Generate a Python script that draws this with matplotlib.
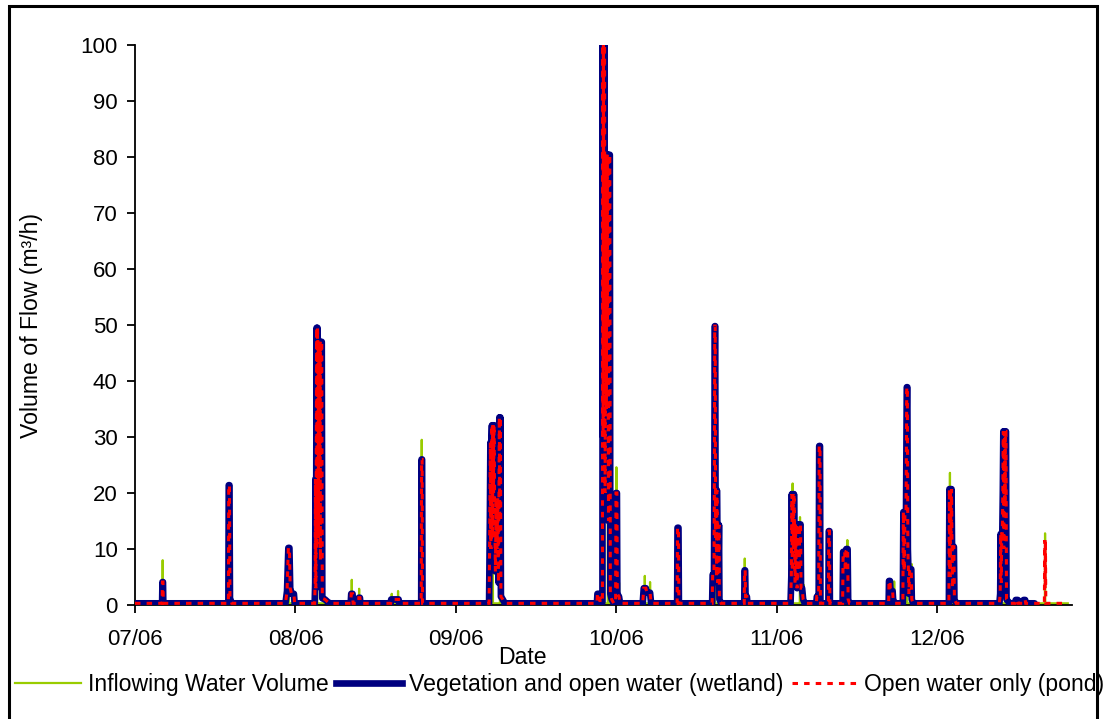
import matplotlib
matplotlib.use("Agg")
import matplotlib.pyplot as plt
from matplotlib.patches import Rectangle
from matplotlib.lines import Line2D

plt.rcParams['font.family'] = ['Liberation Sans', 'DejaVu Sans']

# ---- data: days since 1 July 2006 and flow (m3/h) ----
month_ticks = [0, 30.5, 61, 91.5, 122, 152.5]
month_labels = ["07/06", "08/06", "09/06", "10/06", "11/06", "12/06"]

# Vegetation and open water (wetland)
wetland_day = [
    0.0,
    5.15, 5.22, 5.32, 5.38,
    17.75, 17.82, 17.95, 18.05, 18.4,
    28.6, 28.9, 29.15, 29.35, 29.5, 29.75, 30.2, 30.35,
    34.15, 34.25, 34.3, 34.38, 34.45, 34.52, 34.6, 34.68, 34.75, 34.85, 34.95, 35.05, 35.15, 35.25, 35.35, 35.5, 35.6, 36.1, 36.7, 37.1,
    41.0, 41.1, 41.35, 41.45, 42.45, 42.55, 42.75, 42.85,
    48.6, 48.7, 50.1, 50.2,
    54.4, 54.47, 54.57, 54.65,
    67.3, 67.45, 67.55, 67.65, 67.75, 67.85, 67.95, 68.05, 68.15, 68.25, 68.35, 68.5, 68.65, 68.8, 68.95, 69.1, 69.25, 69.35, 69.45, 69.55, 69.9, 70.3,
    87.8, 87.9, 88.3, 88.4, 88.85, 88.9, 88.97, 89.04, 89.1, 89.17, 89.25, 89.35, 89.5, 89.6, 89.7, 89.8, 89.9, 90.0, 90.1, 90.25, 90.35, 90.6, 91.0,
    91.35, 91.42, 91.6, 91.68, 92.0, 92.2,
    96.5, 96.7, 97.1, 97.3, 97.9, 98.1,
    103.05, 103.12, 103.3, 103.38,
    109.7, 109.8, 110.05, 110.12, 110.2, 110.28, 110.36, 110.44, 110.52, 110.6, 110.68, 110.76, 110.84, 110.92, 111.0, 111.08, 111.4,
    115.8, 115.87, 115.97, 116.05, 116.3, 116.4,
    124.6, 124.75, 124.85, 124.95, 125.05, 125.15, 125.25, 125.35, 125.45, 125.55, 125.65, 125.75, 125.85, 125.95, 126.1, 126.2, 126.35, 126.5, 126.6, 126.8, 127.0, 127.3,
    129.5, 129.6, 129.95, 130.05, 130.2, 130.28,
    131.8, 131.87, 132.0, 132.08,
    134.5, 134.6, 134.9, 135.0, 135.2, 135.45, 135.55, 135.8,
    143.25, 143.32, 143.5, 143.6, 144.0, 144.1, 144.4,
    145.95, 146.05, 146.2, 146.35, 146.55, 146.7, 146.8, 146.9, 147.0, 147.1, 147.25, 147.55, 147.65, 147.9,
    154.7, 154.8, 154.9, 155.0, 155.1, 155.2, 155.3, 155.4, 155.5, 155.65, 155.75, 156.1,
    164.3, 164.45, 164.55, 164.65, 164.75, 164.85, 164.95, 165.05, 165.15, 165.25, 165.35, 165.45, 165.55, 165.65, 166.0, 166.3,
    167.3, 167.4, 167.8, 167.9, 168.8, 168.9, 169.2, 169.3,
    171.0,
]
wetland_flow = [
    0.3,
    0.3, 4.1, 4.1, 0.3,
    0.3, 21.4, 21.4, 1.2, 0.3,
    0.3, 2.5, 10.2, 10.2, 3.0, 2.0, 2.0, 0.3,
    0.3, 4.0, 22.5, 3.0, 22.5, 49.5, 10.0, 49.5, 47.0, 12.0, 47.0, 25.0, 47.0, 8.0, 47.0, 47.0, 1.2, 1.0, 0.5, 0.3,
    0.3, 2.0, 2.0, 0.3, 0.3, 1.3, 1.3, 0.3,
    0.3, 1.0, 1.0, 0.3,
    0.3, 26.0, 26.0, 0.3,
    0.3, 15.0, 29.0, 10.0, 29.0, 32.1, 12.0, 32.1, 20.0, 32.1, 19.0, 6.0, 19.0, 10.0, 19.0, 4.0, 33.5, 15.0, 33.5, 1.5, 1.0, 0.3,
    0.3, 2.0, 2.0, 0.5, 0.5, 100.0, 30.0, 100.0, 60.0, 100.0, 100.0, 20.0, 80.4, 35.0, 80.4, 50.0, 80.4, 15.0, 80.4, 80.4, 2.0, 1.0, 0.3,
    0.3, 20.0, 20.0, 2.0, 1.5, 0.3,
    0.3, 3.0, 3.0, 2.2, 2.2, 0.3,
    0.3, 13.8, 13.8, 0.3,
    0.3, 5.4, 5.4, 20.5, 49.8, 49.8, 12.0, 20.5, 5.0, 20.5, 14.3, 4.0, 14.3, 8.0, 14.3, 1.0, 0.3,
    0.3, 6.2, 6.2, 1.5, 1.5, 0.3,
    0.3, 5.0, 19.8, 6.0, 19.8, 10.0, 19.8, 14.0, 4.0, 14.4, 8.0, 14.4, 3.0, 14.4, 14.4, 6.0, 14.4, 14.4, 3.0, 3.0, 1.0, 0.3,
    0.3, 1.5, 1.5, 28.4, 28.4, 0.3,
    0.3, 13.2, 13.2, 0.3,
    0.3, 9.5, 9.5, 6.0, 10.0, 10.0, 1.0, 0.3,
    0.3, 4.3, 4.3, 2.5, 2.5, 1.0, 0.3,
    0.3, 16.6, 6.0, 16.6, 16.6, 38.9, 38.9, 10.0, 6.4, 2.0, 6.4, 6.4, 1.0, 0.3,
    0.3, 20.7, 5.0, 20.7, 12.0, 20.7, 10.4, 3.0, 10.4, 10.4, 1.0, 0.3,
    0.3, 2.0, 12.7, 4.0, 12.7, 12.7, 20.0, 31.0, 10.0, 31.0, 18.0, 31.0, 31.0, 1.0, 0.6, 0.3,
    0.3, 0.9, 0.9, 0.3, 0.3, 0.9, 0.9, 0.3,
    0.3,
]

# Open water only (pond): follows the wetland record, then continues to late December
pond_day = wetland_day + [172.85, 172.92, 173.0, 173.05, 173.12, 176.2]
pond_flow = wetland_flow + [0.3, 11.6, 3.0, 11.6, 0.3, 0.3]

# Inflowing water volume
inflow_day = [
    0.0,
    5.22, 5.26, 5.3,
    17.84, 17.88, 17.92,
    29.21, 29.25, 29.29,
    29.96, 30.0, 30.04,
    34.56, 34.6, 34.64,
    41.16, 41.2, 41.24,
    42.56, 42.6, 42.64,
    48.76, 48.8, 48.84,
    49.96, 50.0, 50.04,
    54.46, 54.5, 54.54,
    67.96, 68.0, 68.04,
    69.36, 69.4, 69.44,
    88.96, 89.0, 89.04,
    89.86, 89.9, 89.94,
    91.46, 91.5, 91.54,
    91.96, 92.0, 92.04,
    96.86, 96.9, 96.94,
    97.86, 97.9, 97.94,
    103.16, 103.2, 103.24,
    110.16, 110.2, 110.24,
    110.96, 111.0, 111.04,
    115.86, 115.9, 115.94,
    124.96, 125.0, 125.04,
    126.36, 126.4, 126.44,
    127.06, 127.1, 127.14,
    130.11, 130.15, 130.19,
    131.86, 131.9, 131.94,
    135.36, 135.4, 135.44,
    144.26, 144.3, 144.34,
    146.71, 146.75, 146.79,
    147.61, 147.65, 147.69,
    154.86, 154.9, 154.94,
    155.56, 155.6, 155.64,
    164.56, 164.6, 164.64,
    165.36, 165.4, 165.44,
    172.94, 172.98, 173.02,
    177.3,
]
inflow_flow = [
    0.3,
    0.3, 8.0, 0.3,
    0.3, 21.4, 0.3,
    0.3, 10.2, 0.3,
    0.3, 2.8, 0.3,
    0.3, 49.5, 0.3,
    0.3, 4.5, 0.3,
    0.3, 2.9, 0.3,
    0.3, 2.0, 0.3,
    0.3, 2.5, 0.3,
    0.3, 29.5, 0.3,
    0.3, 32.1, 0.3,
    0.3, 33.5, 0.3,
    0.3, 100.0, 0.3,
    0.3, 80.4, 0.3,
    0.3, 24.6, 0.3,
    0.3, 4.0, 0.3,
    0.3, 5.2, 0.3,
    0.3, 4.1, 0.3,
    0.3, 13.8, 0.3,
    0.3, 49.8, 0.3,
    0.3, 15.1, 0.3,
    0.3, 8.3, 0.3,
    0.3, 21.7, 0.3,
    0.3, 15.7, 0.3,
    0.3, 3.6, 0.3,
    0.3, 28.4, 0.3,
    0.3, 13.2, 0.3,
    0.3, 11.6, 0.3,
    0.3, 4.2, 0.3,
    0.3, 38.9, 0.3,
    0.3, 7.3, 0.3,
    0.3, 23.6, 0.3,
    0.3, 15.0, 0.3,
    0.3, 13.8, 0.3,
    0.3, 31.0, 0.3,
    0.3, 12.8, 0.3,
    0.3,
]

GREEN = "#99CC00"
NAVY = "#000080"
RED = "#FF0000"

W, H = 1104, 719
fig = plt.figure(figsize=(W / 100, H / 100), dpi=100)
ax = fig.add_axes([135 / W, (H - 605) / H, (1072 - 135) / W, (605 - 45) / H])

ax.plot(inflow_day, inflow_flow, color=GREEN, lw=1.6, zorder=2,
        label="Inflowing Water Volume")
ax.plot(wetland_day, wetland_flow, color=NAVY, lw=4.8, zorder=3,
        solid_joinstyle="round", solid_capstyle="round",
        label="Vegetation and open water (wetland)")
ax.plot(pond_day, pond_flow, color=RED, lw=2.2, zorder=4,
        linestyle=(0, (1.8, 2.0)), dash_joinstyle="miter",
        label="Open water only (pond)")

ax.set_xlim(0, 178.1)
ax.set_ylim(0, 100)
ax.set_yticks(range(0, 101, 10))
ax.set_xticks(month_ticks)
ax.set_xticklabels(month_labels)

for s in ("top", "right"):
    ax.spines[s].set_visible(False)
for s in ("left", "bottom"):
    ax.spines[s].set_linewidth(1.3)
ax.tick_params(axis="both", direction="out", length=5.5, width=1.3,
               labelsize=16, colors="black")
ax.tick_params(axis="x", pad=12)
ax.tick_params(axis="y", pad=7)

fig.text(32 / W, 1 - 325 / H, "Volume of Flow (m³/h)", rotation=90,
         ha="center", va="center", fontsize=16.6)
fig.text(522 / W, 1 - 658 / H, "Date", ha="center", va="center", fontsize=16.6)

handles = [
    Line2D([], [], color=GREEN, lw=1.6),
    Line2D([], [], color=NAVY, lw=4.8),
    Line2D([], [], color=RED, lw=2.2, linestyle=(0, (1.8, 2.0))),
]
labels = ["Inflowing Water Volume", "Vegetation and open water (wetland)",
          "Open water only (pond)"]
fig.legend(handles, labels, loc="center left",
           bbox_to_anchor=(15 / W, 1 - 685 / H), ncol=3, frameon=False,
           fontsize=16.6, handlelength=2.85, handletextpad=0.3,
           columnspacing=0.35, borderpad=0, borderaxespad=0)

# outer frame of the chart area
fig.add_artist(Rectangle((9 / W, -0.05), (1097 - 9) / W, 1.05 - 6 / H,
                         transform=fig.transFigure, fill=False,
                         edgecolor="black", lw=2.2, zorder=10))

fig.savefig("out.png", dpi=100)
